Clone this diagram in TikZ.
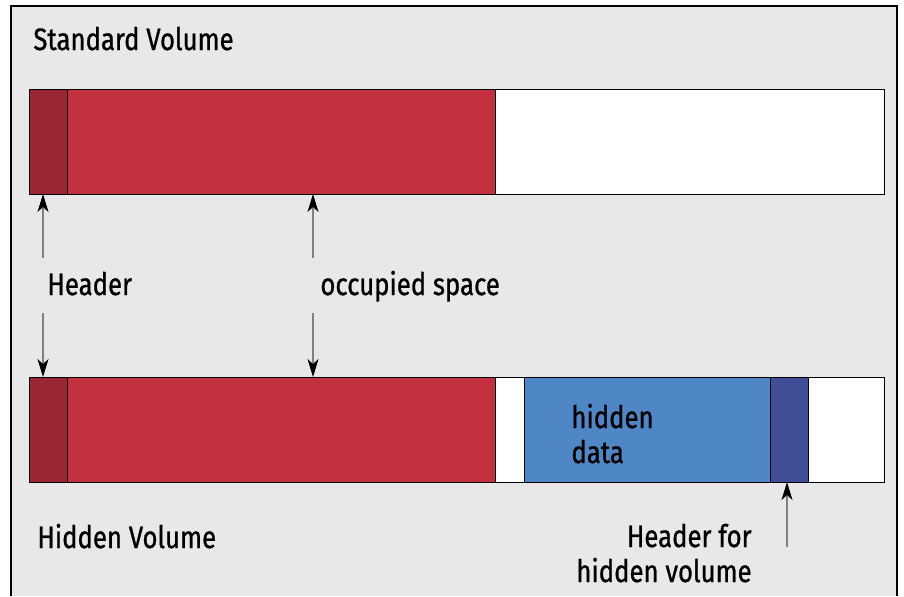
\documentclass[tikz,border=0pt]{standalone}
\usepackage{fontspec}
\setmainfont[FakeStretch=0.83, FakeBold=0.9]{Fira Sans}
\usepackage{xcolor}
\usetikzlibrary{arrows.meta,positioning,calc}
\definecolor{framegray}{HTML}{E8E8E8}
\definecolor{datared}{HTML}{C3303E}
\definecolor{hdrred}{HTML}{9B2633}
\definecolor{hidblue}{HTML}{4F86C6}
\definecolor{hdrblue}{HTML}{3F4E96}
\definecolor{arrowgray}{HTML}{808080}

\begin{document}
\begin{tikzpicture}[x = .5pt, y = -.5pt, >={Stealth[length = 9pt, width = 5.5pt, inset = 2.5pt, color = black]},
    seg/.style = {draw, line width = .5pt, inner sep = 0pt, outer sep = 0pt, anchor = north west, minimum height = 52.5pt},
    lbl/.style = {font = \fontsize{15.5}{17.5}\selectfont, inner sep = 0pt, align = left},
    pointer/.style = {->, draw = arrowgray, line width = .65pt}]
  \useasboundingbox (0,0) rectangle (904,596);
  \fill[framegray] (11,6) rectangle (897,596);
  \draw[line width = .8pt] (11,596) -- (11,6) -- (897,6) -- (897,596);
    % Standard volume
    \node[lbl, anchor = base west] (stdtitle) at (33,50) {Standard Volume};
    \node[seg, fill = hdrred, minimum width = 19pt] (sthdr) at (29,89) {};
    \node[seg, fill = datared, minimum width = 214pt] (stdata) at (67,89) {};
    \node[seg, fill = white, minimum width = 194.5pt] (stfree) at (495,89) {};
    % Hidden volume
    \node[seg, fill = hdrred, minimum width = 19pt] (hvhdr) at (29,377) {};
    \node[seg, fill = datared, minimum width = 214pt] (hvdata) at (67,377) {};
    \node[seg, fill = white, minimum width = 14.5pt] (hvgap) at (495,377) {};
    \node[seg, fill = hidblue, minimum width = 123pt] (hidden) at (524,377) {};
    \node[seg, fill = hdrblue, minimum width = 19pt] (hidhdr) at (770,377) {};
    \node[seg, fill = white, minimum width = 38pt] (hvfree) at (808,377) {};
    \node[lbl, anchor = base west] (hidtext) at (571,463) {hidden\\data};
    \node[lbl, anchor = base west] (hvtitle) at (37,548) {Hidden Volume};
    % Labels
    \node[lbl, anchor = base west] (hdrlbl) at (47,295) {Header};
    \node[lbl, anchor = base west] (occlbl) at (320,295) {occupied space};
    \node[lbl, anchor = base east, align = right] (hidhdrlbl) at (752,582) {Header for\\hidden volume};
    \coordinate (hdrup) at (43,258);
    \coordinate (hdrdown) at (43,313);
    \coordinate (occup) at (313,258);
    \coordinate (occdown) at (313,313);
    \coordinate (hidup) at (787,547);
    \draw[pointer] (hdrup) -- (hdrup |- sthdr.south);
    \draw[pointer] (hdrdown) -- (hdrdown |- hvhdr.north);
    \draw[pointer] (occup) -- (occup |- stdata.south);
    \draw[pointer] (occdown) -- (occdown |- hvdata.north);
    \draw[pointer] (hidup) -- (hidup |- hidhdr.south);
\end{tikzpicture}
\end{document}
